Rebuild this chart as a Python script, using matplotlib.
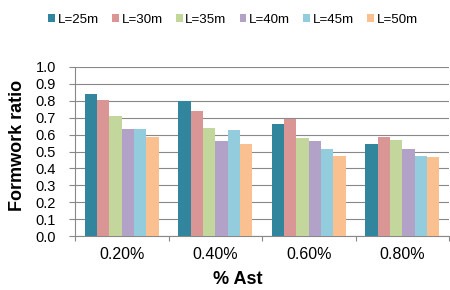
import matplotlib
matplotlib.use("Agg")
import matplotlib.pyplot as plt
import numpy as np
from matplotlib.patches import Patch

plt.rcParams['font.family'] = ['Liberation Sans', 'DejaVu Sans']

categories = ["0.20%", "0.40%", "0.60%", "0.80%"]
series_names = ["L=25m", "L=30m", "L=35m", "L=40m", "L=45m", "L=50m"]
values = {
    "L=25m": [0.843, 0.801, 0.661, 0.545],
    "L=30m": [0.807, 0.740, 0.693, 0.583],
    "L=35m": [0.709, 0.638, 0.579, 0.571],
    "L=40m": [0.634, 0.565, 0.563, 0.514],
    "L=45m": [0.632, 0.626, 0.514, 0.476],
    "L=50m": [0.587, 0.545, 0.476, 0.469],
}
colors = ["#31859C", "#D99694", "#C3D69B", "#B3A2C7", "#93CDDD", "#FAC090"]

fig = plt.figure(figsize=(4.5, 2.9), dpi=100)
ax = fig.add_axes([75/450, 1-236/290, (449-75)/450, (236-67)/290])

n = len(series_names)
bw = 0.132
x = np.arange(len(categories))
for i, name in enumerate(series_names):
    offs = (i - (n-1)/2) * bw
    ax.bar(x + offs, values[name], width=bw, color=colors[i], edgecolor='none', zorder=3)

ax.set_xlim(-0.5, len(categories) - 0.5)
ax.set_ylim(0, 1.0)
yt = np.arange(0, 1.01, 0.1)
ax.set_yticks(yt)
ax.set_yticklabels([f"{v:.1f}" for v in yt], fontsize=10.5)
ax.set_xticks(x)
ax.set_xticklabels(categories, fontsize=11.5)
ax.set_xticks(np.arange(-0.5, len(categories), 1.0), minor=True)
ax.tick_params(axis='x', which='major', length=0, pad=8)
ax.tick_params(axis='x', which='minor', length=3.5, color='#888888', width=0.8)
ax.tick_params(axis='y', length=4.5, color='#888888', width=0.8, pad=9)
ax.yaxis.grid(True, color='#888888', linewidth=0.8, zorder=0)
for s in ['top', 'right']:
    ax.spines[s].set_visible(False)
for s in ['left', 'bottom']:
    ax.spines[s].set_color('#888888')
    ax.spines[s].set_linewidth(0.8)

fig.text(17.5/450, 1-145/290, "Formwork ratio", rotation=90, ha='center', va='center',
         fontsize=13, fontweight='bold')
fig.text(238/450, 1-280/290, "% Ast", ha='center', va='center',
         fontsize=13, fontweight='bold')

handles = [Patch(facecolor=c, edgecolor='none') for c in colors]
fig.legend(handles, series_names, loc='center', bbox_to_anchor=(233/450, 1-20/290),
           ncol=6, frameon=False, fontsize=9.6, handlelength=0.5, handleheight=0.5,
           handletextpad=0.2, columnspacing=1.0)

fig.savefig("out.png", dpi=100)
